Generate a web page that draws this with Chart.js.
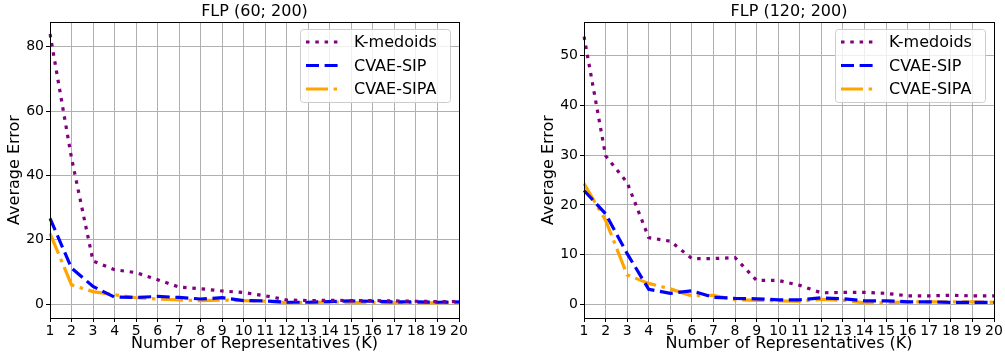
<!DOCTYPE html>
<html lang="en">
<head>
  <meta charset="UTF-8">
  <title>FLP Average Error</title>
  <script src="https://cdn.jsdelivr.net/npm/chart.js"></script>
  <style>
    body {
      margin: 0;
      background-color: white;
    }
    .wrap {
      position: relative;
      width: 1005px;
      height: 358px;
    }
    #leftBox {
      position: absolute;
      left: 0;
      top: 0;
    }
    #rightBox {
      position: absolute;
      left: 534px;
      top: 0;
    }
  </style>
</head>
<body>
  <div class="wrap">
    <div id="leftBox"><canvas id="leftChart" width="500" height="358"></canvas></div>
    <div id="rightBox"><canvas id="rightChart" width="471" height="358"></canvas></div>
  </div>

  <script>
    // Number of representatives K
    const kValues = [1, 2, 3, 4, 5, 6, 7, 8, 9, 10, 11, 12, 13, 14, 15, 16, 17, 18, 19, 20];

    // FLP (60; 200)
    const leftKMedoids = [84, 45.4, 13.4, 10.7, 9.8, 7.6, 5.3, 4.8, 4.1, 3.6, 2.6, 1.3, 1.1, 1.2, 1.1, 1.1, 1.0, 0.9, 0.8, 0.8];
    const leftCvaeSip = [26.7, 11.2, 5.5, 2.2, 2.1, 2.4, 2.1, 1.6, 2.0, 1.1, 1.0, 0.6, 0.6, 0.8, 1.0, 0.9, 0.7, 0.7, 0.6, 0.7];
    const leftCvaeSipa = [22, 6.0, 3.9, 2.9, 2.0, 1.6, 1.3, 1.1, 1.3, 1.1, 0.9, 0.5, 0.5, 0.7, 0.5, 0.5, 0.5, 0.5, 0.4, 0.5];

    // FLP (120; 200)
    const rightKMedoids = [53.9, 29.9, 24.5, 13.4, 12.7, 9.2, 9.2, 9.4, 4.8, 4.8, 3.8, 2.3, 2.4, 2.4, 2.2, 1.7, 1.7, 1.8, 1.7, 1.7];
    const rightCvaeSip = [22.9, 18.2, 10.2, 3.0, 2.2, 2.7, 1.4, 1.2, 1.1, 0.9, 0.9, 1.3, 1.1, 0.7, 0.7, 0.5, 0.5, 0.4, 0.4, 0.4];
    const rightCvaeSipa = [24.3, 16.9, 5.9, 4.2, 3.1, 1.7, 1.8, 0.9, 0.8, 0.7, 0.6, 1.0, 0.8, 0.3, 0.3, 0.5, 0.5, 0.5, 0.5, 0.4];

    // Tick labels
    const leftYTicks = [0, 20, 40, 60, 80];
    const rightYTicks = [0, 10, 20, 30, 40, 50];

    Chart.defaults.font.family = '"DejaVu Sans", sans-serif';
    Chart.defaults.color = '#000';

    // Title drawn centred over the plot area, like matplotlib
    const panelTitle = {
      id: 'panelTitle',
      afterDraw(chart, args, opts) {
        const { ctx, chartArea } = chart;
        ctx.save();
        ctx.font = '16px "DejaVu Sans", sans-serif';
        ctx.fillStyle = '#000';
        ctx.textAlign = 'center';
        ctx.textBaseline = 'middle';
        ctx.fillText(opts.text, (chartArea.left + chartArea.right) / 2, 12);
        ctx.restore();
      }
    };

    // Black frame on all four sides
    const frame = {
      id: 'frame',
      afterDatasetsDraw(chart) {
        const { ctx, chartArea } = chart;
        ctx.save();
        ctx.strokeStyle = '#000';
        ctx.lineWidth = 1;
        ctx.strokeRect(chartArea.left + 0.5, chartArea.top + 0.5,
          chartArea.right - chartArea.left, chartArea.bottom - chartArea.top);
        ctx.restore();
      }
    };

    // Legend box in the upper right corner of the plot
    const boxLegend = {
      id: 'boxLegend',
      afterDraw(chart) {
        const { ctx, chartArea } = chart;
        const w = 150, h = 73;
        const x0 = chartArea.right - 9 - w;
        const y0 = chartArea.top + 7;
        ctx.save();
        ctx.beginPath();
        ctx.roundRect(x0 + 0.5, y0 + 0.5, w, h, 3);
        ctx.fillStyle = 'rgba(255,255,255,0.8)';
        ctx.fill();
        ctx.strokeStyle = '#cccccc';
        ctx.lineWidth = 1;
        ctx.stroke();
        chart.data.datasets.forEach((ds, i) => {
          const y = y0 + 13 + i * 23.5;
          ctx.beginPath();
          ctx.setLineDash(ds.borderDash);
          ctx.strokeStyle = ds.borderColor;
          ctx.lineWidth = ds.borderWidth;
          ctx.moveTo(x0 + 6, y);
          ctx.lineTo(x0 + 39, y);
          ctx.stroke();
          ctx.setLineDash([]);
          ctx.fillStyle = '#000';
          ctx.font = '16px "DejaVu Sans", sans-serif';
          ctx.textBaseline = 'middle';
          ctx.fillText(ds.label, x0 + 54, y + 1);
        });
        ctx.restore();
      }
    };

    function makeChart(id, title, series, yTicks, yMin, yMax, padRight) {
      const styles = [
        { label: 'K-medoids', color: '#800080', dash: [3.5, 5.8] },
        { label: 'CVAE-SIP', color: '#0000ff', dash: [13, 5.6] },
        { label: 'CVAE-SIPA', color: '#ffa500', dash: [22, 5.6, 3.5, 5.6] }
      ];
      return new Chart(document.getElementById(id), {
        type: 'line',
        data: {
          labels: kValues,
          datasets: series.map((vals, i) => ({
            label: styles[i].label,
            data: vals,
            borderColor: styles[i].color,
            backgroundColor: styles[i].color,
            borderDash: styles[i].dash,
            borderWidth: 3.2,
            pointRadius: 0,
            tension: 0,
            fill: false
          }))
        },
        options: {
          responsive: false,
          animation: false,
          layout: { padding: { top: 22, right: padRight, left: 0, bottom: 0 } },
          plugins: {
            legend: { display: false },
            title: { display: false },
            tooltip: { enabled: false },
            panelTitle: { text: title }
          },
          scales: {
            x: {
              type: 'category',
              offset: false,
              grid: { color: '#b0b0b0', lineWidth: 1, tickColor: '#000', tickLength: 4 },
              border: { color: '#000', width: 1 },
              ticks: { font: { size: 14 }, color: '#000', padding: 1, maxRotation: 0, autoSkip: false },
              title: { display: true, text: 'Number of Representatives (K)', font: { size: 16 }, color: '#000', padding: { top: 0, bottom: 5 } },
              afterFit(scale) { scale.height = 40; }
            },
            y: {
              type: 'linear',
              min: yMin,
              max: yMax,
              afterBuildTicks(scale) { scale.ticks = yTicks.map(v => ({ value: v })); },
              grid: { color: '#b0b0b0', lineWidth: 1, tickColor: '#000', tickLength: 4 },
              border: { color: '#000', width: 1 },
              ticks: { font: { size: 14 }, color: '#000', padding: 2 },
              title: { display: true, text: 'Average Error', font: { size: 16 }, color: '#000', padding: { top: 5, bottom: 0 } },
              afterFit(scale) { scale.width = 50; }
            }
          }
        },
        plugins: [panelTitle, frame, boxLegend]
      });
    }

    makeChart('leftChart', 'FLP (60; 200)', [leftKMedoids, leftCvaeSip, leftCvaeSipa], leftYTicks, -4.3, 87.7, 41);
    makeChart('rightChart', 'FLP (120; 200)', [rightKMedoids, rightCvaeSip, rightCvaeSipa], rightYTicks, -2.76, 56.8, 11);
  </script>
</body>
</html>
